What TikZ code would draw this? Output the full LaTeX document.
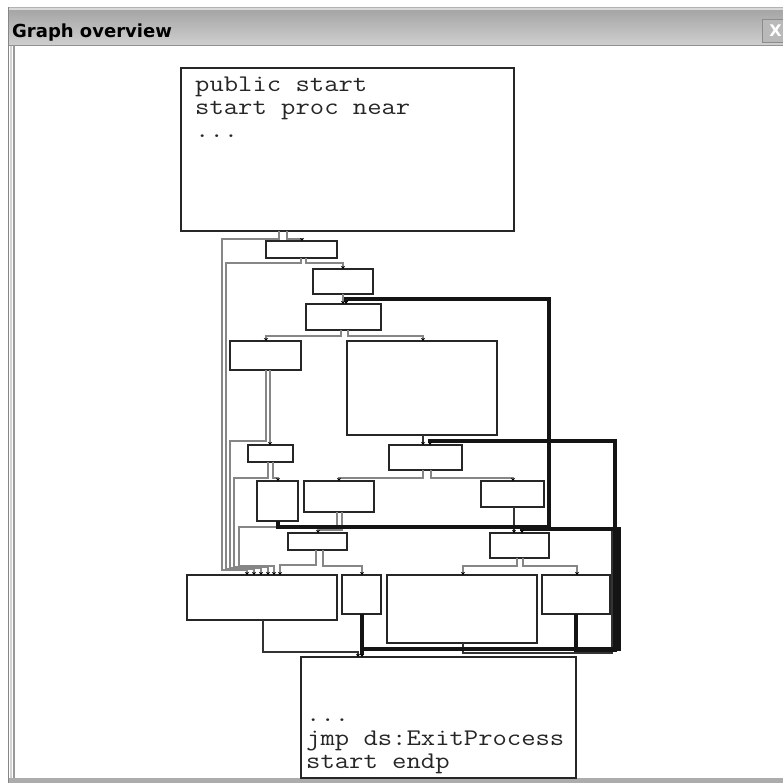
\documentclass[tikz,border=0pt]{standalone}
\usepackage{fontspec}
\newfontfamily\monofont{Latin Modern Mono}[FakeStretch=1.165]
\newfontfamily\titlefont{DejaVu Sans}
\usetikzlibrary{arrows.meta,calc}
\newcommand\mkblock[5]{\node[blk,minimum width={(#4-#2)*1pt},minimum height={(#5-#3)*1pt}] (#1) at ({(#2+#4)/2},{(#3+#5)/2}) {};}
\begin{document}
\begin{tikzpicture}[x=1pt,y=-1pt,
  blk/.style={draw=black!85,line width=1.6pt,fill=white,inner sep=0pt,outer sep=0pt,rectangle},
  ge/.style={draw=gray!95,line width=1.3pt},
  de/.style={draw=black!80,line width=1.2pt},
  ke/.style={draw=black!92,line width=3.6pt},
  tip/.style={-{Stealth[length=3pt,width=4pt,color=black]}},
  mono/.style={font=\fontsize{23.9}{23}\monofont,anchor=base west,inner sep=0pt,text=black!85},
]
\useasboundingbox (0,0) rectangle (783,783);
\fill[white] (0,0) rectangle (783,783);
% window frame
\shade[top color=gray!72,bottom color=gray!38] (9,8) rectangle (783,45);
\draw[gray!30,line width=1.5pt] (9,9) -- (783,9);
\draw[gray!60,line width=1pt] (8.5,7.5) -- (783,7.5);
\draw[gray!85,line width=1.2pt] (9,45.5) -- (783,45.5);
\draw[gray!95,line width=1.2pt] (8.5,7.5) -- (8.5,783);
\draw[gray!35,line width=1.6pt] (11,46) -- (11,783);
\draw[gray!80,line width=1.2pt] (14,46) -- (14,778);
\fill[gray!65] (9,778) rectangle (783,783);
\node[font=\titlefont\bfseries\fontsize{18}{18}\selectfont,anchor=base west,inner sep=0pt,text=black] (title) at (12,38) {Graph overview};
\node[draw=gray!90,fill=gray!55,line width=1pt,minimum width=26pt,minimum height=23pt,anchor=north west,inner sep=0pt,font=\titlefont\bfseries\fontsize{16}{16}\selectfont,text=white] (close) at (762,19) {X};
% blocks
\mkblock{top}{181}{68}{514}{231}
\mkblock{b2}{266}{241}{337}{258}
\mkblock{b3}{313}{269}{373}{294}
\mkblock{b4}{306}{304}{381}{330}
\mkblock{b5}{230}{341}{301}{370}
\mkblock{b6}{347}{341}{497}{435}
\mkblock{b7}{248}{445}{293}{462}
\mkblock{b8}{389}{445}{462}{470}
\mkblock{b9}{257}{481}{298}{521}
\mkblock{b10}{304}{481}{374}{512}
\mkblock{b11}{481}{481}{544}{507}
\mkblock{b12}{288}{533}{347}{550}
\mkblock{b13}{490}{533}{549}{558}
\mkblock{b14}{187}{575}{337}{620}
\mkblock{b15}{342}{575}{381}{614}
\mkblock{b16}{387}{575}{537}{643}
\mkblock{b17}{542}{575}{610}{614}
\mkblock{bot}{301}{657}{576}{778}
% texts
\node[mono] (t1) at (195,92) {public start};
\node[mono] (t2) at (195,115) {start proc near};
\node[mono] (t3) at (195,138) {...};
\node[mono] (u1) at (306,721) {...};
\node[mono] (u2) at (306,745) {jmp ds:ExitProcess};
\node[mono] (u3) at (306,768) {start endp};
% gray edges
\draw[ge,tip] (279,0 |- top.south) |- (222,239) |- (247,570) -- (247,0 |- b14.north);
\draw[ge,tip] (287,0 |- top.south) |- (302,239) -- (302,0 |- b2.north);
\draw[ge,tip] (301,0 |- b2.south) |- (226,263) |- (254,569) -- (254,0 |- b14.north);
\draw[ge,tip] (306,0 |- b2.south) |- (343,263) -- (343,0 |- b3.north);
\draw[ge,tip] (343,0 |- b3.south) -- (343,0 |- b4.north);
\draw[ge,tip] (341,0 |- b4.south) |- (266,336) -- (266,0 |- b5.north);
\draw[ge,tip] (348,0 |- b4.south) |- (423,336) -- (423,0 |- b6.north);
\draw[ge,tip] (266,0 |- b5.south) |- (230,441) |- (261,568) -- (261,0 |- b14.north);
\draw[ge,tip] (270,0 |- b5.south) -- (270,0 |- b7.north);
\draw[ge,tip] (268,0 |- b7.south) |- (234,478) |- (268,567) -- (268,0 |- b14.north);
\draw[ge,tip] (273,0 |- b7.south) |- (278,478) -- (278,0 |- b9.north);
\draw[ge,tip] (423,0 |- b8.south) |- (339,478) -- (339,0 |- b10.north);
\draw[ge,tip] (431,0 |- b8.south) |- (513,478) -- (513,0 |- b11.north);
\draw[ge,tip] (337,0 |- b10.south) |- (239,527) |- (274,566) -- (274,0 |- b14.north);
\draw[ge,tip] (342,0 |- b10.south) |- (318,530) -- (318,0 |- b12.north);
\draw[ge,tip] (316,0 |- b12.south) |- (280,565) -- (280,0 |- b14.north);
\draw[ge,tip] (323,0 |- b12.south) |- (362,566) -- (362,0 |- b15.north);
\draw[ge,tip] (517,0 |- b13.south) |- (463,566) -- (463,0 |- b16.north);
\draw[ge,tip] (523,0 |- b13.south) |- (577,566) -- (577,0 |- b17.north);
% dark thin edges
\draw[de,tip] (423,0 |- b6.south) -- (423,0 |- b8.north);
\draw[de,tip] (514,0 |- b11.south) -- (514,0 |- b13.north);
\draw[de,tip] (263,0 |- b14.south) |- (358,652) -- (358,0 |- bot.north);
\draw[de] (463,0 |- b16.south) |- (612,653) -- (612,529);
% thick edges
\draw[ke,tip] (278,0 |- b9.south) |- (549,527) |- (346,299) -- (346,0 |- b4.north);
\draw[ke,tip] (576,0 |- b17.south) |- (615,650) |- (430,441) -- (430,0 |- b8.north);
\draw[ke,tip] (362,0 |- b15.south) |- (619,649) |- (522,529) -- (522,0 |- b13.north);
\draw[ke,tip] (362,0 |- b15.south) -- (362,0 |- bot.north);
\end{tikzpicture}
\end{document}
